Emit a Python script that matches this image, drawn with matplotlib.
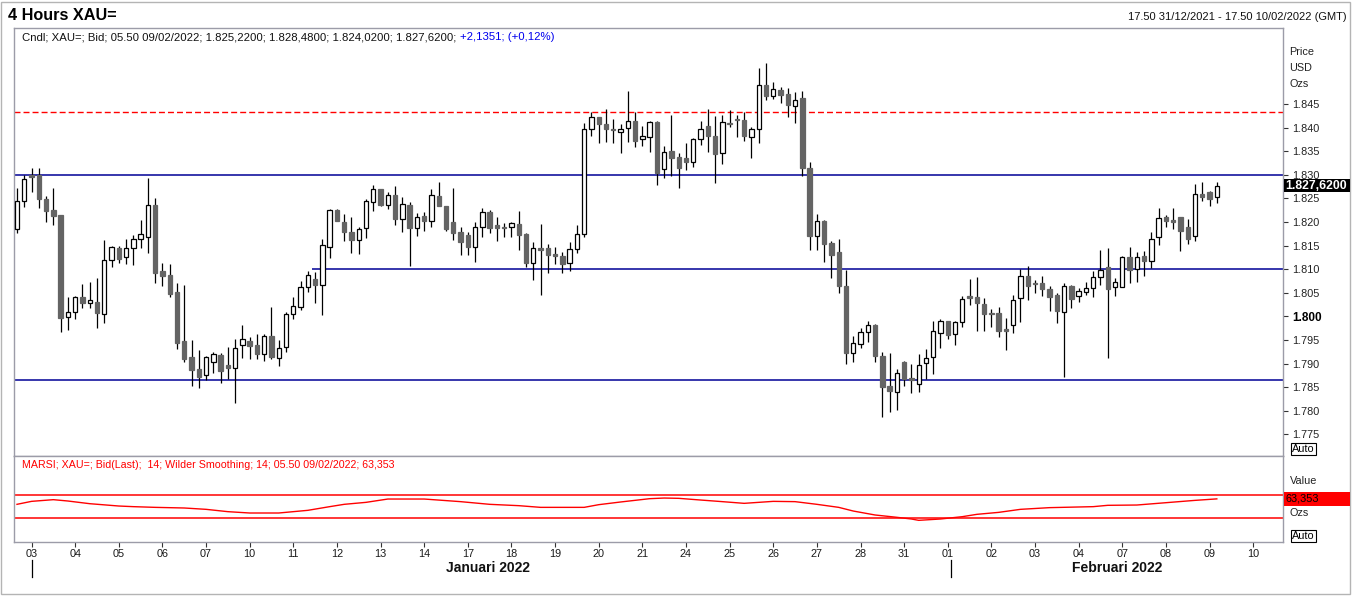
import matplotlib
matplotlib.use('Agg')
import matplotlib.pyplot as plt
import matplotlib.transforms as mtransforms
from matplotlib.patches import Rectangle
import numpy as np

plt.rcParams['font.family'] = ['Liberation Sans', 'DejaVu Sans']

#### Data: XAU= 4 hour candles, 03/01/2022 - 09/02/2022 (USD)

opens = [1818.5, 1824.4, 1830.0, 1830.0, 1824.9, 1822.5, 1821.5, 1799.9, 1800.9, 1804.1,
         1802.8, 1803.0, 1800.5, 1812.0, 1814.5, 1812.6, 1814.5, 1816.4, 1816.8, 1823.6,
         1809.6, 1808.8, 1805.2, 1794.8, 1791.4, 1788.9, 1787.6, 1790.3, 1791.8, 1789.7,
         1789.1, 1793.9, 1794.8, 1793.9, 1792.0, 1795.8, 1791.2, 1793.5, 1800.5, 1802.0,
         1806.2, 1807.9, 1806.7, 1814.7, 1822.5, 1820.0, 1817.9, 1816.2, 1818.7, 1824.2,
         1827.0, 1823.6, 1825.7, 1820.6, 1823.6, 1818.7, 1821.3, 1820.2, 1825.5, 1823.4,
         1820.0, 1817.9, 1817.2, 1814.7, 1818.9, 1822.1, 1819.4, 1818.9, 1818.9, 1819.6,
         1817.5, 1811.3, 1814.5, 1814.5, 1813.2, 1812.8, 1811.3, 1814.3, 1817.5, 1839.7,
         1842.2, 1840.8, 1839.7, 1839.1, 1839.9, 1841.4, 1837.6, 1838.0, 1841.2, 1831.2,
         1835.0, 1833.8, 1833.6, 1832.7, 1837.6, 1840.3, 1838.2, 1834.6, 1841.0, 1841.8,
         1841.6, 1838.0, 1839.7, 1849.0, 1846.7, 1848.0, 1847.1, 1844.6, 1846.3, 1831.4,
         1817.0, 1820.2, 1815.5, 1813.6, 1806.4, 1792.2, 1794.2, 1796.7, 1798.2, 1791.6,
         1785.3, 1784.0, 1790.3, 1786.9, 1785.7, 1790.1, 1791.4, 1796.5, 1799.0, 1796.3,
         1798.8, 1804.3, 1804.1, 1802.6, 1800.7, 1800.7, 1797.3, 1798.2, 1803.9, 1808.6,
         1807.1, 1807.1, 1805.8, 1804.5, 1800.9, 1806.4, 1804.3, 1805.2, 1806.0, 1808.3,
         1810.5, 1806.2, 1806.2, 1812.6, 1810.0, 1812.8, 1811.7, 1816.8, 1821.1, 1820.4,
         1821.1, 1818.9, 1817.0, 1825.9, 1826.4, 1825.22]
highs = [1827.2, 1830.0, 1831.4, 1831.4, 1825.5, 1827.2, 1821.5, 1804.1, 1804.3, 1806.9,
         1807.3, 1808.1, 1816.2, 1814.9, 1814.9, 1816.4, 1817.2, 1820.4, 1829.3, 1825.1,
         1811.3, 1811.1, 1807.1, 1806.7, 1795.0, 1792.9, 1791.6, 1792.5, 1792.2, 1793.5,
         1795.2, 1798.2, 1795.6, 1796.3, 1796.3, 1802.0, 1795.0, 1800.9, 1804.1, 1807.5,
         1809.6, 1809.4, 1816.4, 1822.8, 1822.8, 1821.7, 1821.1, 1818.9, 1824.9, 1827.8,
         1827.0, 1826.4, 1827.6, 1825.3, 1824.2, 1821.9, 1822.1, 1827.0, 1828.5, 1823.4,
         1827.2, 1818.9, 1817.9, 1820.0, 1823.0, 1822.5, 1821.1, 1819.8, 1820.0, 1822.3,
         1817.7, 1815.8, 1819.6, 1815.3, 1814.7, 1813.6, 1815.8, 1819.4, 1841.0, 1843.3,
         1842.2, 1843.9, 1841.8, 1840.8, 1847.8, 1843.3, 1840.3, 1841.4, 1841.4, 1836.1,
         1842.7, 1834.6, 1836.7, 1837.8, 1841.4, 1843.9, 1842.5, 1842.7, 1843.7, 1842.7,
         1843.3, 1840.1, 1852.6, 1853.7, 1849.7, 1848.6, 1848.4, 1847.5, 1847.8, 1832.7,
         1821.7, 1820.4, 1816.0, 1816.4, 1809.8, 1795.8, 1797.5, 1799.0, 1798.4, 1792.5,
         1792.2, 1788.9, 1790.5, 1789.9, 1792.0, 1793.1, 1799.0, 1799.4, 1799.0, 1799.0,
         1804.3, 1807.9, 1808.3, 1803.9, 1801.6, 1802.0, 1799.7, 1804.5, 1810.0, 1810.7,
         1807.7, 1808.6, 1806.4, 1805.0, 1807.1, 1806.7, 1806.0, 1807.3, 1809.6, 1814.1,
         1814.5, 1808.1, 1812.8, 1814.7, 1813.6, 1813.9, 1817.9, 1823.0, 1821.5, 1823.0,
         1821.1, 1820.6, 1828.0, 1828.5, 1826.6, 1828.48]
lows = [1817.7, 1823.2, 1826.4, 1823.0, 1820.0, 1819.4, 1796.7, 1797.1, 1799.4, 1801.8,
        1801.8, 1797.5, 1798.6, 1810.5, 1811.3, 1811.1, 1810.9, 1814.5, 1813.4, 1807.1,
        1806.4, 1804.1, 1793.1, 1790.3, 1785.3, 1784.8, 1786.5, 1788.0, 1785.9, 1786.7,
        1781.6, 1791.2, 1791.0, 1791.0, 1790.5, 1791.0, 1789.5, 1792.5, 1799.4, 1801.4,
        1805.2, 1802.8, 1800.3, 1812.4, 1820.2, 1816.0, 1813.4, 1813.2, 1816.6, 1822.3,
        1823.4, 1822.8, 1819.4, 1817.9, 1810.7, 1817.0, 1818.1, 1818.9, 1823.4, 1818.1,
        1816.2, 1813.0, 1813.0, 1811.5, 1816.8, 1817.7, 1816.0, 1816.8, 1816.8, 1814.1,
        1810.5, 1807.7, 1804.5, 1809.2, 1811.1, 1809.2, 1809.6, 1813.4, 1816.8, 1838.2,
        1836.7, 1837.0, 1836.7, 1834.6, 1837.0, 1835.9, 1836.1, 1834.8, 1827.8, 1829.3,
        1829.7, 1827.2, 1831.0, 1831.7, 1836.3, 1834.8, 1828.3, 1832.3, 1840.1, 1838.0,
        1837.2, 1833.6, 1836.7, 1845.8, 1846.1, 1845.2, 1842.2, 1841.0, 1829.7, 1814.1,
        1814.1, 1811.5, 1808.1, 1805.0, 1789.9, 1790.3, 1793.3, 1794.6, 1790.3, 1778.7,
        1779.7, 1780.2, 1785.3, 1783.8, 1784.0, 1786.7, 1787.8, 1793.3, 1795.2, 1793.9,
        1797.8, 1802.4, 1796.9, 1796.9, 1797.8, 1795.6, 1792.9, 1796.5, 1798.8, 1803.5,
        1805.0, 1804.3, 1801.1, 1798.6, 1787.2, 1801.8, 1803.0, 1804.5, 1804.1, 1806.7,
        1791.2, 1804.3, 1806.2, 1807.1, 1807.3, 1808.6, 1810.3, 1815.1, 1818.9, 1818.5,
        1813.9, 1815.3, 1816.0, 1824.4, 1823.4, 1824.02]
closes = [1824.4, 1829.1, 1829.5, 1824.9, 1822.3, 1821.3, 1799.7, 1800.9, 1804.1, 1802.8,
          1803.5, 1800.7, 1812.0, 1814.7, 1812.2, 1814.5, 1816.4, 1817.5, 1823.6, 1809.2,
          1808.6, 1804.7, 1794.4, 1791.0, 1788.6, 1787.2, 1791.4, 1792.0, 1788.4, 1789.1,
          1793.3, 1795.2, 1793.7, 1792.0, 1795.8, 1791.4, 1793.3, 1800.5, 1802.2, 1806.2,
          1808.8, 1806.7, 1815.1, 1822.5, 1820.2, 1817.9, 1816.2, 1818.5, 1824.4, 1827.0,
          1823.6, 1825.7, 1820.6, 1823.8, 1818.7, 1821.1, 1820.2, 1825.7, 1823.4, 1818.5,
          1817.7, 1815.8, 1814.7, 1818.9, 1822.1, 1818.7, 1818.7, 1818.7, 1819.8, 1817.2,
          1811.3, 1814.5, 1814.1, 1813.0, 1812.8, 1811.1, 1814.3, 1817.5, 1839.7, 1842.2,
          1840.8, 1839.7, 1839.5, 1839.7, 1841.4, 1837.2, 1838.2, 1841.2, 1830.4, 1834.8,
          1833.6, 1831.4, 1832.7, 1837.6, 1839.7, 1838.2, 1834.4, 1841.2, 1840.8, 1841.6,
          1838.2, 1839.7, 1849.0, 1846.7, 1848.2, 1846.9, 1844.8, 1845.8, 1831.4, 1817.0,
          1820.2, 1815.3, 1813.0, 1806.4, 1792.2, 1794.4, 1796.7, 1798.2, 1791.6, 1785.0,
          1784.2, 1788.0, 1786.7, 1786.5, 1789.7, 1791.2, 1796.9, 1799.0, 1796.1, 1798.8,
          1803.7, 1803.9, 1802.8, 1800.5, 1800.5, 1796.9, 1796.9, 1803.5, 1808.6, 1806.4,
          1806.9, 1805.8, 1804.1, 1801.1, 1806.4, 1803.7, 1805.4, 1806.0, 1808.3, 1809.8,
          1805.8, 1807.3, 1812.6, 1809.8, 1812.6, 1811.7, 1816.4, 1820.8, 1820.2, 1820.0,
          1818.1, 1816.4, 1825.9, 1825.3, 1824.9, 1827.62]
last_change = 2.1351
last_change_pct = 0.12

# horizontal levels drawn on the chart
solid_levels = [1830.0, 1810.0, 1786.5]
solid_level_start = [None, 40.6, None]   # candle where the line begins
dashed_level = 1843.25

# MARSI (14, Wilder smoothing 14), read at a few candles
rsi_idx = [0, 2, 5, 7, 10, 14, 16, 19, 23, 26, 29, 32, 36, 40, 43, 45, 48, 51, 56, 61,
           65, 69, 72, 78, 80, 83, 87, 89, 91, 94, 97, 100, 104, 107, 110, 113, 115, 118,
           121, 123, 124, 127, 130, 132, 135, 138, 142, 148, 150, 154, 158, 162, 165]
rsi_val = [54.0, 59.1, 62.0, 59.7, 55.1, 51.1, 50.0, 48.8, 47.7, 45.4, 41.4, 39.1, 39.1,
           43.7, 50.0, 54.0, 57.4, 63.1, 63.1, 58.6, 54.0, 51.7, 48.8, 48.8, 53.4, 58.0,
           63.7, 64.8, 64.3, 61.4, 58.6, 55.7, 59.1, 58.6, 54.0, 48.8, 42.5, 35.7, 31.7,
           28.8, 26.5, 28.8, 32.8, 36.8, 40.2, 45.4, 48.3, 50.0, 52.3, 52.8, 56.8, 60.8,
           63.353]
rsi_bands = [70, 30]

day_labels = ['03', '04', '05', '06', '07', '10', '11', '12', '13', '14', '17', '18',
              '19', '20', '21', '24', '25', '26', '27', '28', '31', '01', '02', '03',
              '04', '07', '08', '09', '10']
month_labels = ['Januari 2022', 'Februari 2022']
month_start_day = [0, 21]      # position in day_labels
price_ticks = [1775, 1780, 1785, 1790, 1795, 1800, 1805, 1810, 1815, 1820, 1825,
               1830, 1835, 1840, 1845]

#### Layout helpers (pixel -> figure fraction)

W, H = 1352, 596
def fx(px):
    return px / W
def fy(py):
    return 1 - py / H

fig = plt.figure(figsize=(W / 100, H / 100), dpi=100)
fig.patch.set_facecolor('white')
fig.add_artist(Rectangle((0.0008, 0.004), 0.9975, 0.992, transform=fig.transFigure,
                         fill=False, ec='#b4b4b4', lw=1))

ax = fig.add_axes([fx(14), fy(456), fx(1283) - fx(14), fy(28) - fy(456)])
ax2 = fig.add_axes([fx(14), fy(542), fx(1283) - fx(14), fy(456) - fy(542)])

o = np.array(opens)
h = np.array(highs)
l = np.array(lows)
c = np.array(closes)
x = np.arange(len(o))
up = c >= o

xmin, xmax = -0.41, 174.1
cpd = 6        # 4h candles per day
first_tick = 2

#### Price panel

ax.vlines(x, l, h, color='black', lw=0.9, zorder=3)
ax.bar(x[up], (c - o)[up], bottom=o[up], width=0.6, facecolor='white',
       edgecolor='black', lw=0.9, zorder=4)
ax.bar(x[~up], (o - c)[~up], bottom=c[~up], width=0.6, facecolor='#646464',
       edgecolor='#646464', lw=0.9, zorder=4)

for lev, start in zip(solid_levels, solid_level_start):
    x0 = xmin if start is None else start
    ax.hlines(lev, x0, xmax, color='#000096', lw=1.1, zorder=2)
ax.axhline(dashed_level, color='#ff0000', lw=1.0, ls=(0, (4.3, 2.2)), zorder=2)

ax.set_xlim(xmin, xmax)
ax.set_ylim(1770.4, 1861.1)
ax.set_xticks([])
ax.yaxis.tick_right()
ax.set_yticks(price_ticks, labels=[f'{v:,.0f}'.replace(',', '.') for v in price_ticks])
ax.tick_params(axis='y', direction='out', length=3.5, width=0.8, pad=3,
               labelsize=7.8, color='#333333', labelcolor='#222222')
for lbl in ax.get_yticklabels():
    if lbl.get_text() == '1.800':
        lbl.set_fontweight('bold')
        lbl.set_fontsize(8.5)
        lbl.set_color('black')

for sp in ax.spines.values():
    sp.set_color('#9c9ca8')
    sp.set_linewidth(1)

#### MARSI panel

ax2.plot(rsi_idx, rsi_val, color='#ff0000', lw=1.0)
for b in rsi_bands:
    ax2.axhline(b, color='#ff0000', lw=1.1)
ax2.set_xlim(xmin, xmax)
ax2.set_ylim(-10.7, 137)
ax2.set_yticks([])
tick_x = [first_tick + cpd * k for k in range(len(day_labels))]
ax2.set_xticks(tick_x, labels=day_labels)
ax2.tick_params(axis='x', direction='out', length=3.5, width=0.8, pad=1.2,
                labelsize=7.8, color='#333333', labelcolor='#1a1a1a')
for sp in ax2.spines.values():
    sp.set_color('#9c9ca8')
    sp.set_linewidth(1)

blend2 = mtransforms.blended_transform_factory(ax2.transData, ax2.transAxes)
for k in month_start_day:
    mx = tick_x[k] + (0.5 if k > 0 else 0)
    ax2.plot([mx, mx], [-0.21, -0.41], transform=blend2, clip_on=False,
             color='black', lw=0.9)

fig.text(fx(488), fy(568), month_labels[0], ha='center', va='center',
         fontsize=10, fontweight='bold', color='#111111')
fig.text(fx(1117), fy(568), month_labels[1], ha='center', va='center',
         fontsize=10, fontweight='bold', color='#111111')

#### Texts

fig.text(fx(8), fy(15), '4 Hours XAU=', fontsize=11.7, fontweight='bold', va='center')
fig.text(fx(1347), fy(17), '17.50 31/12/2021 - 17.50 10/02/2022 (GMT)', ha='right',
         va='center', fontsize=8, color='#111111')

def eu(v, nd):
    return f'{v:,.{nd}f}'.replace(',', 'X').replace('.', ',').replace('X', '.')

hdr = (f'Cndl; XAU=; Bid; 05.50 09/02/2022; {eu(o[-1], 4)}; {eu(h[-1], 4)}; '
       f'{eu(l[-1], 4)}; {eu(c[-1], 4)}; ')
t1 = fig.text(fx(22), fy(37), hdr, fontsize=8.2, va='center', color='#111111')
fig.canvas.draw()
bb = t1.get_window_extent()
fig.text(bb.x1 / fig.bbox.width, fy(37),
         f'+{eu(last_change, 4)}; (+{eu(last_change_pct, 2)}%)', fontsize=8.2,
         va='center', color='#0000ee')

fig.text(fx(22), fy(465), f'MARSI; XAU=; Bid(Last);  14; Wilder Smoothing; 14; '
         f'05.50 09/02/2022; {eu(rsi_val[-1], 3)}', fontsize=7.7, va='center',
         color='#ff0000')

for txt, py in zip(['Price', 'USD', 'Ozs'], [52, 68, 84]):
    fig.text(fx(1289), fy(py), txt, fontsize=7.8, va='center', color='#222222')
fig.text(fx(1290), fy(481), 'Value', fontsize=7.8, va='center', color='#222222')
fig.text(fx(1290), fy(513), 'Ozs', fontsize=7.8, va='center', color='#222222')

for py in [449, 536]:
    fig.text(fx(1292), fy(py), 'Auto', fontsize=7.8, va='center', color='black',
             bbox=dict(boxstyle='square,pad=0.12', fc='white', ec='black', lw=0.8))

# last price / last value boxes
def fig_y(axis, val):
    d = axis.transData.transform((0, val))
    return fig.transFigure.inverted().transform(d)[1]

yb = fig_y(ax, c[-1])
fig.add_artist(Rectangle((fx(1284), yb - 6.5 / H), fx(1350) - fx(1284), 13 / H,
                         transform=fig.transFigure, fc='black', ec='none'))
fig.text(fx(1285), yb, eu(c[-1], 4), fontsize=8.8, fontweight='bold', color='white',
         va='center')

yr = fig_y(ax2, rsi_val[-1])
fig.add_artist(Rectangle((fx(1284), yr - 7 / H), fx(1350) - fx(1284), 14 / H,
                         transform=fig.transFigure, fc='#ff0000', ec='none'))
fig.text(fx(1285), yr, eu(rsi_val[-1], 3), fontsize=7.8, color='black', va='center')

plt.savefig('out.png', dpi=100)
